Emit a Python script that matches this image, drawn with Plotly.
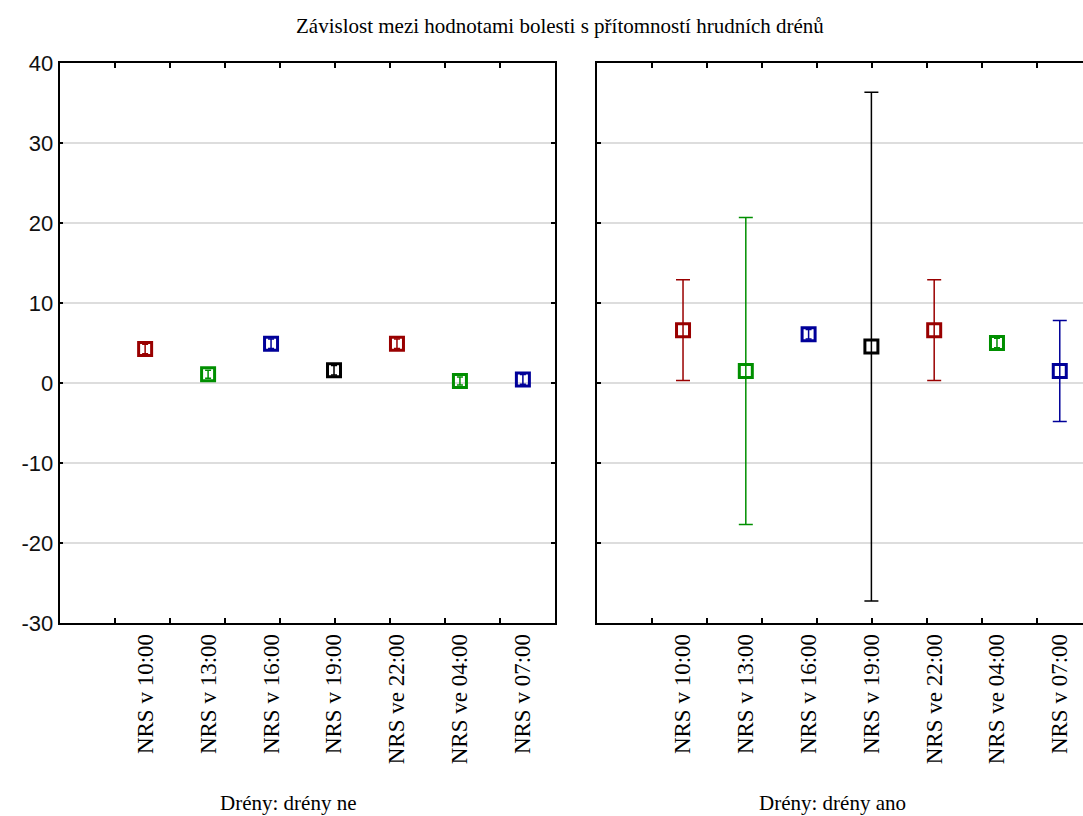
import plotly.graph_objects as go

# ---- data ----
categories = ["NRS v 10:00", "NRS v 13:00", "NRS v 16:00", "NRS v 19:00",
              "NRS ve 22:00", "NRS ve 04:00", "NRS v 07:00"]
mean_ne = [4.25, 1.1, 4.9, 1.6, 4.9, 0.25, 0.45]
err_ne = [0.6, 0.5, 0.6, 0.6, 0.6, 0.5, 0.6]
mean_ano = [6.6, 1.5, 6.1, 4.55, 6.6, 5.0, 1.5]
err_ano = [6.3, 19.2, 0.6, 31.8, 6.3, 0.6, 6.3]
point_colors = ["#990000", "#008f00", "#000099", "#000000",
                "#990000", "#008f00", "#000099"]
yticks = [-30, -20, -10, 0, 10, 20, 30, 40]
ytick_labels = ["-30", "-20", "-10", "0", "10", "20", "30", "40"]
title_text = "Závislost mezi hodnotami bolesti s přítomností hrudních drénů"
panel_titles = ["Drény: drény ne", "Drény: drény ano"]

W, H = 1083, 816
fig = go.Figure()

def add_panel(means, errs, xa, ya):
    for i, (m, e, c) in enumerate(zip(means, errs, point_colors)):
        fig.add_trace(go.Scatter(
            x=[i], y=[m], mode="markers", xaxis=xa, yaxis=ya,
            marker=dict(symbol="square-open", size=13, color=c,
                        line=dict(width=3, color=c)),
            error_y=dict(type="data", array=[e], visible=True, color=c,
                         thickness=1.5, width=7 if e > 2 else 3),
            showlegend=False, hoverinfo="skip"))

add_panel(mean_ne, err_ne, "x", "y")
add_panel(mean_ano, err_ano, "x2", "y2")

# invisible traces to activate tick-overlay axes
fig.add_trace(go.Scatter(x=[0], y=[0], xaxis="x3", yaxis="y", mode="markers",
                         marker=dict(opacity=0), showlegend=False, hoverinfo="skip"))
fig.add_trace(go.Scatter(x=[0], y=[0], xaxis="x4", yaxis="y2", mode="markers",
                         marker=dict(opacity=0), showlegend=False, hoverinfo="skip"))

px = lambda v: v / W
py = lambda v: 1 - v / H

dom1 = [px(59.5), px(555)]
dom2 = [px(597), 1.0]
ydom = [py(623), py(63)]

tickfont_x = dict(family="Liberation Serif", size=23, color="#000000")
tickfont_y = dict(family="Liberation Sans", size=22, color="#111111")

common_x = dict(tickmode="array", tickvals=list(range(len(categories))),
                ticktext=categories, tickangle=-90, ticks="", showgrid=False,
                zeroline=False, showline=True, linecolor="#000000", linewidth=1.5,
                mirror=True, tickfont=tickfont_x, automargin=False, fixedrange=True)

fig.update_layout(
    width=W, height=H, template="none",
    paper_bgcolor="white", plot_bgcolor="white",
    margin=dict(l=0, r=0, t=0, b=0),
    xaxis=dict(domain=dom1, range=[-1.36, 6.51], anchor="y", **common_x),
    xaxis2=dict(domain=dom2, range=[-1.37, 6.37], anchor="y2", **common_x),
    xaxis3=dict(overlaying="x", anchor="y", range=[0, 9], tickvals=list(range(1, 9)),
                ticks="inside", ticklen=5, tickcolor="#000000", tickwidth=1.5,
                mirror="ticks", showline=False, showgrid=False, zeroline=False,
                showticklabels=False, automargin=False),
    xaxis4=dict(overlaying="x2", anchor="y2", range=[0, 8.836], tickvals=list(range(1, 9)),
                ticks="inside", ticklen=5, tickcolor="#000000", tickwidth=1.5,
                mirror="ticks", showline=False, showgrid=False, zeroline=False,
                showticklabels=False, automargin=False),
    yaxis=dict(domain=ydom, range=[-30, 40], tickmode="array", tickvals=yticks,
               ticktext=ytick_labels, ticks="inside",
               ticklen=4, tickcolor="#000000", tickwidth=1.5, showgrid=True,
               gridcolor="#dddddd", gridwidth=1.5, zeroline=False, showline=True,
               linecolor="#000000", linewidth=1.5, mirror="ticks",
               tickfont=tickfont_y, automargin=False, anchor="x"),
    yaxis2=dict(domain=ydom, range=[-30, 40], tickmode="array", tickvals=yticks,
                ticks="inside",
                ticklen=4, tickcolor="#000000", tickwidth=1.5, showgrid=True,
                gridcolor="#dddddd", gridwidth=1.5, zeroline=False, showline=True,
                linecolor="#000000", linewidth=1.5, mirror=False,
                showticklabels=False, automargin=False, anchor="x2"),
)

fig.add_annotation(text=title_text, x=px(560), y=py(26), xref="paper", yref="paper",
                   showarrow=False, xanchor="center", yanchor="middle",
                   font=dict(family="Liberation Serif", size=21, color="#000000"))
for t, cx in zip(panel_titles, [288, 832]):
    fig.add_annotation(text=t, x=px(cx), y=py(803), xref="paper", yref="paper",
                       showarrow=False, xanchor="center", yanchor="middle",
                       font=dict(family="Liberation Serif", size=21, color="#000000"))

fig.write_html("out.html", config={"displayModeBar": False})
